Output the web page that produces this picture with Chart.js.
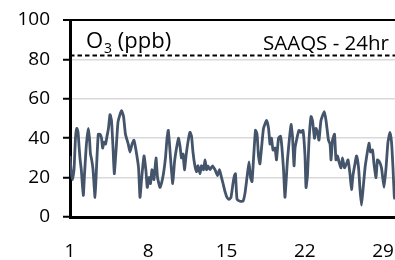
<!DOCTYPE html>
<html><head><meta charset="utf-8">
<script src="https://cdn.jsdelivr.net/npm/chart.js@4/dist/chart.umd.min.js"></script>
<style>html,body{margin:0;padding:0;background:#fff}#wrap{width:395px;height:260px;position:relative}</style>
</head><body><div id="wrap"><canvas id="c"></canvas></div>
<script>
const days = [1.00,1.09,1.22,1.36,1.49,1.61,1.72,1.81,1.89,2.01,2.19,2.30,2.43,2.52,2.64,2.74,2.83,2.94,3.06,3.24,3.37,3.53,3.68,3.82,3.92,4.04,4.18,4.31,4.44,4.58,4.71,4.85,4.96,5.11,5.29,5.47,5.62,5.79,5.96,6.21,6.37,6.55,6.72,6.90,7.13,7.26,7.40,7.62,7.80,7.91,8.07,8.20,8.33,8.51,8.69,8.83,9.05,9.18,9.36,9.54,9.68,9.79,9.90,10.03,10.19,10.35,10.53,10.70,10.84,10.97,11.11,11.24,11.38,11.55,11.73,11.87,12.00,12.14,12.31,12.45,12.63,12.76,12.94,13.08,13.21,13.34,13.52,13.75,13.97,14.19,14.37,14.51,14.69,14.86,15.04,15.22,15.40,15.58,15.71,15.80,15.94,16.21,16.47,16.65,16.83,17.01,17.15,17.28,17.41,17.59,17.73,17.86,17.99,18.13,18.31,18.58,18.76,18.89,19.02,19.16,19.34,19.47,19.65,19.83,19.96,20.10,20.23,20.45,20.63,20.77,20.90,21.04,21.13,21.30,21.48,21.66,21.84,22.02,22.11,22.24,22.38,22.56,22.69,22.87,23.00,23.14,23.27,23.45,23.75,23.90,24.12,24.26,24.35,24.48,24.66,24.79,24.93,25.06,25.24,25.37,25.55,25.73,25.87,26.04,26.18,26.31,26.49,26.63,26.81,26.94,27.07,27.21,27.39,27.57,27.74,27.88,28.06,28.19,28.37,28.50,28.68,28.86,29.09,29.27,29.44,29.62,29.76,29.89,30.01,30.07];
const o3 = [31,24,19,24,40,45,43,36,30,24,11,22,34,40,45,40,32,29,24,10,25,42,42,40,35,38,37,41,45,52,49,35,22,33,48,52,54,51,42,37,33,37,39,34,25,10,19,31,23,15,20,17,24,19,30,20,15,17,22,30,40,44,37,27,17,28,35,40,36,30,32,24,31,38,43,41,33,27,23,26,22,26,24,29,24,26,24,26,24,21,24,21,17,13,10,9,10,17,21,22,9,8,8,12,20,28,20,18,29,44,42,31,27,35,45,49,45,37,40,34,35,29,40,41,35,24,10,29,40,47,41,26,35,40,44,43,44,31,15,21,39,51,49,40,45,43,39,49,53.5,49,39,37,29,39,42,29,31,28,25,30,25,27,29,22,14,21,27,31,25,14,6,14,25,32,37.5,33,34,27,20,29,28,25,15,25,38,43,38,25,10,9];
const xTickLabels = [1, 8, 15, 22, 29];
const yTickValues = [0, 20, 40, 60, 80, 100];
const saaqsLimit = 82;
const saaqsLabel = 'SAAQS - 24hr';
const titleMain = 'O', titleSub = '3', titleRest = ' (ppb)';
const xMin = 1, xMax = 30.07;

const FONT = '"Open Sans", sans-serif';

const textPlugin = {
  id: 'texts',
  afterDatasetsDraw(chart) {
    const {ctx, chartArea: a, scales: {y}} = chart;
    ctx.save();
    ctx.fillStyle = '#000';
    ctx.textBaseline = 'alphabetic';
    ctx.font = '22px ' + FONT;
    let x = a.left + 16, base = a.top + 28;
    ctx.fillText(titleMain, x, base);
    x += ctx.measureText(titleMain).width + 1;
    ctx.font = '14px ' + FONT;
    ctx.fillText(titleSub, x, base + 5);
    x += ctx.measureText(titleSub).width;
    ctx.font = '22px ' + FONT;
    ctx.fillText(titleRest, x, base);
    ctx.font = '20.5px ' + FONT;
    ctx.textAlign = 'right';
    ctx.fillText(saaqsLabel, a.right - 6, y.getPixelForValue(saaqsLimit) - 5);
    ctx.restore();
  }
};

new Chart(document.getElementById('c'), {
  type: 'line',
  data: {
    datasets: [
      {
        data: days.map((d, i) => ({x: d, y: o3[i]})),
        borderColor: '#44546A',
        borderWidth: 2.8,
        pointRadius: 0,
        tension: 0.15,
        fill: false
      },
      {
        data: [{x: xMin, y: saaqsLimit}, {x: xMax, y: saaqsLimit}],
        borderColor: '#000',
        borderWidth: 2,
        borderDash: [4.5, 3],
        pointRadius: 0,
        fill: false
      }
    ]
  },
  options: {
    responsive: true,
    maintainAspectRatio: false,
    animation: false,
    layout: {padding: {top: 20, right: 0, left: 0, bottom: 0}},
    plugins: {legend: {display: false}, tooltip: {enabled: false}},
    scales: {
      x: {
        type: 'linear',
        min: xMin,
        max: xMax,
        afterBuildTicks: s => { s.ticks = xTickLabels.map(v => ({value: v})); },
        afterFit: s => { s.height = 43; s.paddingLeft = 0; s.paddingRight = 0; },
        grid: {display: true, drawOnChartArea: false, drawTicks: false},
        border: {display: true, color: '#000', width: 3},
        ticks: {color: '#000', font: {family: FONT, size: 19}, padding: 23, maxRotation: 0, autoSkip: false}
      },
      y: {
        min: 0,
        max: 100,
        afterBuildTicks: s => { s.ticks = yTickValues.map(v => ({value: v})); },
        afterFit: s => { s.width = 70; s.paddingTop = 0; s.paddingBottom = 0; },
        grid: {
          color: c => c.tick && c.tick.value === 100 ? '#000' : '#d9d9d9',
          lineWidth: c => c.tick && c.tick.value === 100 ? 2 : 1.5,
          tickColor: '#000',
          tickLength: 7,
          tickWidth: 2
        },
        border: {display: true, color: '#000', width: 3},
        ticks: {color: '#000', font: {family: FONT, size: 19}, padding: 13}
      }
    }
  },
  plugins: [textPlugin]
});
</script>
</body></html>
